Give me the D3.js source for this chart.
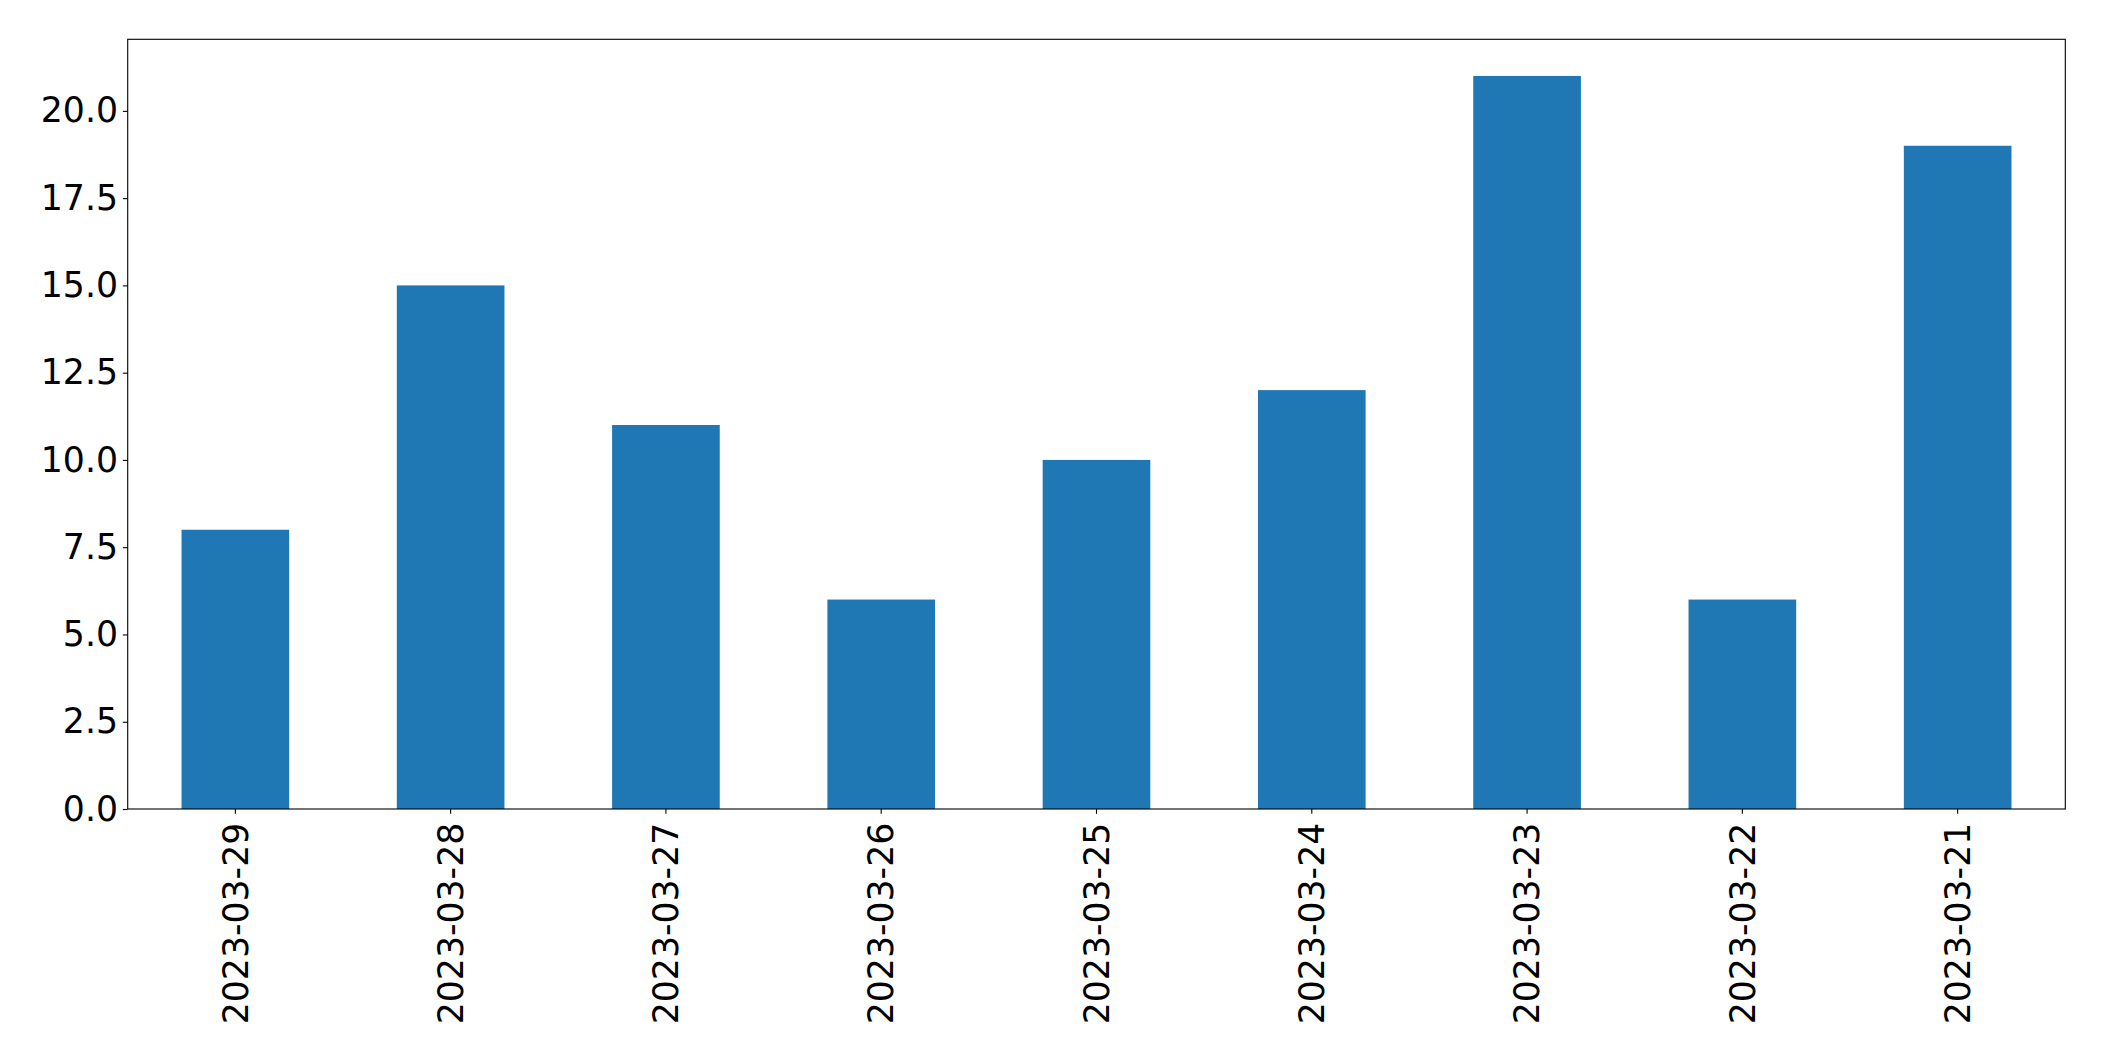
<!DOCTYPE html>
<html>
<head>
<meta charset="utf-8">
<script src="https://cdn.jsdelivr.net/npm/d3@7"></script>
<style>
html, body { margin: 0; padding: 0; background: #fff; }
svg { display: block; }
text { font-family: "DejaVu Sans", sans-serif; fill: #000; }
</style>
</head>
<body>
<script>
const categories = ["2023-03-29","2023-03-28","2023-03-27","2023-03-26","2023-03-25","2023-03-24","2023-03-23","2023-03-22","2023-03-21"];
const values = [8, 15, 11, 6, 10, 12, 21, 6, 19];
const yTicks = [0, 2.5, 5, 7.5, 10, 12.5, 15, 17.5, 20];

(function () {
const W = 2104, H = 1061;
const pLeft = 127.7, pRight = 2065.3, pTop = 39.3, pBottom = 809;
const fontSize = 34.7;
const tickLen = 4.86, tickPad = 4.86;

const svg = d3.select("body").append("svg").attr("width", W).attr("height", H);

const x = d3.scaleBand().domain(categories).range([pLeft, pRight]).paddingInner(0.5).paddingOuter(0.25);
const y = d3.scaleLinear().domain([0, d3.max(values) * 1.05]).range([pBottom, pTop]);

svg.append("g").selectAll("rect").data(values).join("rect")
  .attr("x", (d, i) => x(categories[i]))
  .attr("y", d => y(d))
  .attr("width", x.bandwidth())
  .attr("height", d => y(0) - y(d))
  .attr("fill", "#1f77b4");

const yAxis = svg.append("g").attr("transform", `translate(${pLeft},0)`)
  .call(d3.axisLeft(y).tickValues(yTicks).tickFormat(d3.format(".1f")).tickSize(tickLen).tickPadding(tickPad));
yAxis.select(".domain").remove();
yAxis.selectAll("line").attr("stroke", "#000").attr("stroke-width", 1.1);
yAxis.selectAll("text").attr("font-size", fontSize).attr("font-family", "DejaVu Sans").attr("fill", "#000");

const xAxis = svg.append("g").attr("transform", `translate(0,${pBottom})`)
  .call(d3.axisBottom(x).tickSize(tickLen).tickPadding(tickPad));
xAxis.select(".domain").remove();
xAxis.selectAll("line").attr("stroke", "#000").attr("stroke-width", 1.1);
xAxis.selectAll("text")
  .attr("font-size", fontSize).attr("font-family", "DejaVu Sans").attr("fill", "#000")
  .attr("transform", `translate(0,${tickLen + tickPad + 4}) rotate(-90)`)
  .attr("x", 0).attr("y", 0).attr("dy", "0.35em")
  .attr("text-anchor", "end");

svg.append("rect")
  .attr("x", pLeft).attr("y", pTop)
  .attr("width", pRight - pLeft).attr("height", pBottom - pTop)
  .attr("fill", "none").attr("stroke", "#000").attr("stroke-width", 1.1);
})();
</script>
</body>
</html>
